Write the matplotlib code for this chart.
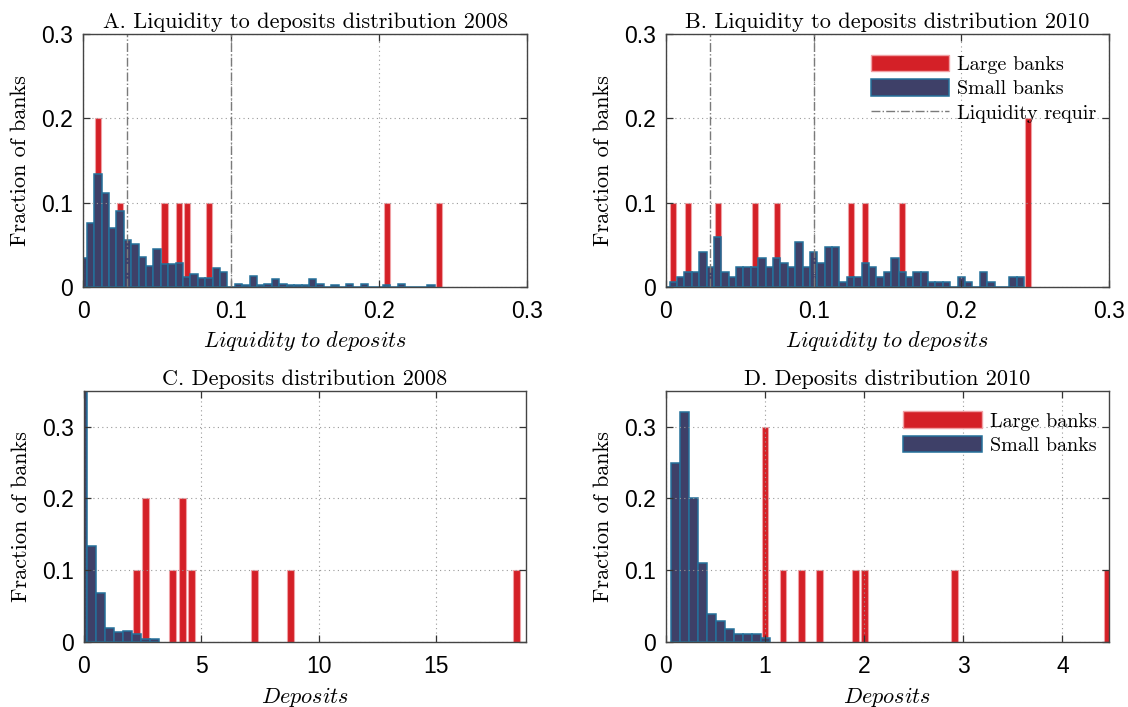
import matplotlib
matplotlib.use("Agg")
import matplotlib.pyplot as plt
from matplotlib.patches import Patch
from matplotlib.lines import Line2D
import numpy as np

plt.rcParams['mathtext.fontset'] = 'cm'
plt.rcParams['axes.formatter.use_mathtext'] = True

# ---------------- data ----------------
# A / B : liquidity to deposits, bins of 0.005 centred on multiples of 0.005
liq_bin_width = 0.005
liq_small_2008 = [0.034, 0.076, 0.134, 0.112, 0.070, 0.090, 0.056, 0.051, 0.036, 0.025,
                  0.045, 0.027, 0.027, 0.029, 0.012, 0.016, 0.011, 0.011, 0.022, 0.018,
                  0.000, 0.004, 0.002, 0.013, 0.002, 0.004, 0.010, 0.004, 0.002, 0.002,
                  0.002, 0.010, 0.004, 0.000, 0.002, 0.000, 0.004, 0.000, 0.004, 0.000,
                  0.000, 0.002, 0.000, 0.004, 0.000, 0.000, 0.000, 0.002]
liq_large_2008_x = [0.010, 0.025, 0.055, 0.065, 0.070, 0.085, 0.205, 0.240]
liq_large_2008_y = [0.2, 0.1, 0.1, 0.1, 0.1, 0.1, 0.1, 0.1]

liq_small_2010 = [0.000, 0.006, 0.012, 0.018, 0.018, 0.041, 0.024, 0.059, 0.018, 0.012,
                  0.024, 0.024, 0.024, 0.035, 0.024, 0.035, 0.029, 0.024, 0.053, 0.024,
                  0.041, 0.029, 0.047, 0.047, 0.006, 0.012, 0.012, 0.029, 0.024, 0.012,
                  0.018, 0.035, 0.018, 0.012, 0.018, 0.018, 0.006, 0.006, 0.006, 0.000,
                  0.012, 0.006, 0.000, 0.018, 0.006, 0.000, 0.000, 0.012, 0.012]
liq_large_2010_x = [0.005, 0.015, 0.035, 0.060, 0.075, 0.125, 0.135, 0.160, 0.245]
liq_large_2010_y = [0.1, 0.1, 0.1, 0.1, 0.1, 0.1, 0.1, 0.1, 0.2]

liq_requirements = [0.03, 0.10]

# C : deposits 2008
dep_2008_first_bin = -0.04
dep_2008_bin_width = 0.384
dep_small_2008 = [0.72, 0.134, 0.069, 0.020, 0.014, 0.016, 0.012, 0.005, 0.005]
dep_large_2008_x = [2.26, 2.65, 3.80, 4.19, 4.57, 7.26, 8.79, 18.39]
dep_large_2008_y = [0.1, 0.2, 0.1, 0.2, 0.1, 0.1, 0.1, 0.1]

# D : deposits 2010
dep_2010_first_bin = 0.095
dep_2010_bin_width = 0.0907
dep_small_2010 = [0.25, 0.32, 0.20, 0.11, 0.040, 0.029, 0.018, 0.012, 0.012, 0.012, 0.006]
dep_large_2010_x = [1.00, 1.18, 1.365, 1.55, 1.91, 2.00, 2.91, 4.45]
dep_large_2010_y = [0.3, 0.1, 0.1, 0.1, 0.1, 0.1, 0.1, 0.1]

titles = ['A. Liquidity to deposits distribution 2008',
          'B. Liquidity to deposits distribution 2010',
          'C. Deposits distribution 2008',
          'D. Deposits distribution 2010']

red = '#d42027'
red_edge = '#f0a0a4'
navy = '#3e4068'
navy_edge = '#24709a'
grey = '#7a7a7a'
serif = 'cmr10'
tick_font = 'Liberation Sans'

fig = plt.figure(figsize=(11.28, 7.07), dpi=100)
ax_a = fig.add_axes([0.0736, 0.594, 0.394, 0.358])
ax_b = fig.add_axes([0.5904, 0.594, 0.3927, 0.358])
ax_c = fig.add_axes([0.0741, 0.0915, 0.392, 0.356])
ax_d = fig.add_axes([0.5904, 0.0915, 0.3927, 0.356])


def draw(ax, small, first, width, large_x, large_y, red_frac):
    centers = first + width * np.arange(len(small))
    ax.bar(large_x, large_y, width=width * red_frac, color=red, edgecolor=red_edge,
           linewidth=0.8, zorder=1)
    ax.bar(centers, small, width=width, color=navy, edgecolor=navy_edge,
           linewidth=1.1, zorder=2)


def style(ax, title, xlabel, xlim, ylim, xticks, yticks):
    ax.set_xlim(xlim)
    ax.set_ylim(ylim)
    ax.set_xticks(xticks)
    ax.set_yticks(yticks)
    ax.set_xticklabels([('%g' % t) for t in xticks], fontfamily=tick_font, fontsize=16.5)
    ax.set_yticklabels([('%g' % t) for t in yticks], fontfamily=tick_font, fontsize=16.5)
    ax.tick_params(direction='in', top=True, right=True, length=5, width=0.9,
                   color='#333333')
    ax.tick_params(axis='x', pad=9)
    ax.tick_params(axis='y', pad=7)
    ax.grid(True, linestyle=(0, (1, 3)), color='#9a9a9a', linewidth=0.8, zorder=5)
    ax.set_axisbelow(False)
    for s in ax.spines.values():
        s.set_color('#444444')
        s.set_linewidth(1.0)
        s.set_zorder(6)
    ax.set_title(title, fontfamily=serif, fontsize=16, pad=4)
    ax.set_ylabel('Fraction of banks', fontfamily=serif, fontsize=16, labelpad=8)
    ax.set_xlabel(xlabel, fontsize=16, labelpad=5)


draw(ax_a, liq_small_2008, 0.0, liq_bin_width, liq_large_2008_x, liq_large_2008_y, 0.82)
draw(ax_b, liq_small_2010, 0.0, liq_bin_width, liq_large_2010_x, liq_large_2010_y, 0.82)
draw(ax_c, dep_small_2008, dep_2008_first_bin, dep_2008_bin_width, dep_large_2008_x, dep_large_2008_y, 0.78)
draw(ax_d, dep_small_2010, dep_2010_first_bin, dep_2010_bin_width, dep_large_2010_x, dep_large_2010_y, 0.75)

for ax in (ax_a, ax_b):
    for r in liq_requirements:
        ax.axvline(r, color=grey, linestyle='-.', linewidth=1.0, zorder=4)

liq_label = r'$Liquidity\ to\ deposits$'
dep_label = r'$Deposits$'
style(ax_a, titles[0], liq_label, (0, 0.3), (0, 0.3), [0, 0.1, 0.2, 0.3], [0, 0.1, 0.2, 0.3])
style(ax_b, titles[1], liq_label, (0, 0.3), (0, 0.3), [0, 0.1, 0.2, 0.3], [0, 0.1, 0.2, 0.3])
style(ax_c, titles[2], dep_label, (0, 18.8), (0, 0.35), [0, 5, 10, 15], [0, 0.1, 0.2, 0.3])
style(ax_d, titles[3], dep_label, (0, 4.47), (0, 0.35), [0, 1, 2, 3, 4], [0, 0.1, 0.2, 0.3])

handles = [Patch(facecolor=red, edgecolor=red_edge, label='Large banks'),
           Patch(facecolor=navy, edgecolor=navy_edge, linewidth=1.1, label='Small banks'),
           Line2D([], [], color=grey, linestyle='-.', linewidth=1.0, label='Liquidity requir')]
ax_b.legend(handles=handles, loc='upper right', bbox_to_anchor=(0.99, 0.95), frameon=False,
            prop={'family': serif, 'size': 14.5}, handlelength=3.9, handleheight=0.9,
            labelspacing=0.25, handletextpad=0.4, borderaxespad=0)
ax_d.legend(handles=handles[:2], loc='upper right', bbox_to_anchor=(0.99, 0.95), frameon=False,
            prop={'family': serif, 'size': 14.5}, handlelength=3.9, handleheight=0.9,
            labelspacing=0.25, handletextpad=0.4, borderaxespad=0)

plt.savefig('out.png', dpi=100)
